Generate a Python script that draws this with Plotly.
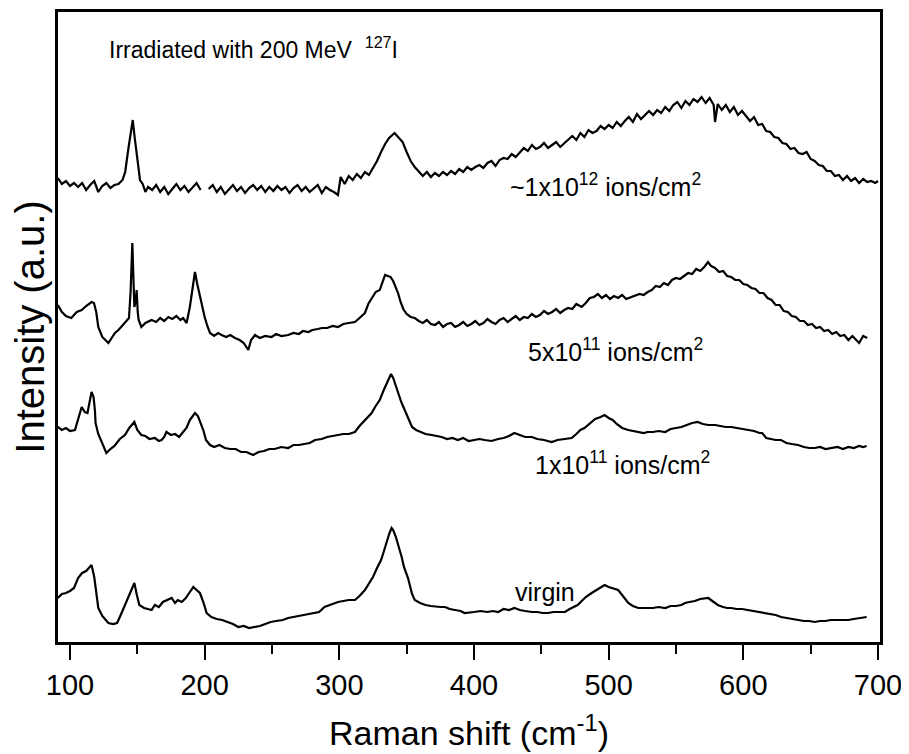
import plotly.graph_objects as go

# ---- data (Raman shift in cm^-1, intensity in a.u., offset stacked) ----
x_1e12 = [91, 94, 97, 100, 103, 106, 109, 112, 115, 118, 121, 124, 127, 130, 133, 136, 139, 141, 143, 145,
          146.6, 148, 150, 152, 154, 156, 158, 161, 164, 167, 170, 173, 176, 179, 182, 185, 188, 191, 194, 197,
          199.5,
          203, 206, 209, 212, 215, 218, 221, 224, 227, 230, 233, 236, 239, 242, 245, 248, 251, 254, 257, 260,
          263, 266, 269, 272, 275, 278, 281, 284, 287, 290, 293, 296, 299, 301, 304, 307, 310, 313, 316, 319,
          322, 325, 328, 331, 334, 337, 339, 341, 343, 345, 347, 350, 353, 356, 359, 362, 365, 368, 371, 374,
          377, 380, 383, 386, 389, 392, 395, 398, 401, 404, 407, 410, 413, 416, 419, 422, 425, 428, 431, 434,
          437, 440, 443, 446, 449, 452, 455, 458, 461, 464, 467, 470, 473, 476, 479, 482, 485, 488, 491, 494,
          497, 500, 503, 506, 509, 512, 515, 518, 521, 524, 527, 530, 533, 536, 539, 542, 545, 548, 551, 554,
          557, 560, 563, 566, 569, 572, 575, 578, 579, 581, 584, 587, 590, 593, 596, 599, 602, 605, 608, 611,
          614, 617, 620, 623, 626, 629, 632, 635, 638, 641, 644, 647, 650, 653, 656, 659, 662, 665, 668, 671,
          674, 677, 680, 683, 686, 689, 692, 695, 698, 700]
y_1e12 = [464, 458, 461, 456, 459, 455, 459, 452, 457, 461, 450, 456, 459, 454, 457, 458, 462, 470, 490, 510,
          522, 505, 480, 462, 458, 450, 455, 452, 457, 450, 455, 448, 453, 458, 452, 456, 450, 455, 459, 452,
          None,
          453, 457, 450, 455, 448, 453, 457, 451, 455, 449, 454, 457, 452, 456, 450, 455, 451, 456, 452, 455,
          449, 454, 457, 451, 455, 450, 454, 457, 449, 455, 452, 450, 447, 465, 458, 466, 462, 468, 464, 470,
          467, 474, 481, 490, 498, 504, 507, 509, 506, 503, 500, 490, 481, 475, 471, 466, 470, 465, 469, 466,
          470, 467, 471, 468, 473, 470, 475, 472, 475, 477, 474, 479, 481, 476, 482, 484, 483, 488, 485, 490,
          494, 491, 497, 493, 495, 499, 494, 497, 500, 495, 499, 502, 506, 502, 509, 505, 512, 509, 511, 516,
          513, 517, 514, 520, 516, 521, 525, 520, 528, 523, 527, 531, 527, 532, 529, 535, 531, 537, 540, 534,
          541, 537, 543, 540, 545, 539, 544, 537, 520, 538, 532, 537, 530, 535, 527, 531, 526, 521, 525, 517,
          518, 511, 510, 505, 504, 499, 498, 493, 494, 489, 488, 490, 483, 481, 477, 476, 471, 471, 466, 467,
          462, 466, 461, 464, 459, 463, 460, 461, 459, 461]

x_5e11 = [91, 94, 97, 101, 105, 108.7, 112, 116, 117.8, 119.5, 121, 124, 128.5, 131, 133.4, 136, 138.5, 140.8,
          143.8, 145, 146.3, 147.2, 147.8, 148.7, 149.5, 150.3, 151, 153, 156, 160.6, 164, 167, 170, 173, 176,
          179, 182, 184, 186.6, 189, 191, 192.8, 194.5, 196.5, 198.5, 200, 202, 204, 207, 210, 212.6, 216, 219,
          222.5, 226, 229, 232.4, 234.5, 237.4, 241, 245, 249.7, 253, 257, 262, 266, 270, 273, 277, 280, 284,
          287, 291, 295, 299, 303, 307, 311.6, 315, 319, 321.5, 324, 327, 330, 332, 334, 336, 338, 340, 342,
          343.6, 345.5, 347.5, 350, 353, 356, 359, 362, 365, 368, 371, 374, 377, 380, 383, 386, 389, 392, 395,
          398, 401, 404, 407, 410, 413, 416, 419, 422, 425, 428, 431, 434, 437, 440, 443, 446, 449, 452, 455,
          458, 461, 464, 467, 470, 473, 476, 480, 483, 486, 489, 492, 495, 498, 501, 504, 507, 510, 513, 517,
          520, 523, 526, 529, 532, 535, 538, 541, 544, 547, 550, 553, 556, 559, 562, 565, 568, 571, 573.8, 576,
          579, 582, 585, 588, 591, 594, 597, 600, 603, 606, 609, 612, 615, 618, 621, 624, 627, 630, 633, 636,
          639, 642, 645, 648, 651, 654, 657, 660, 663, 666, 669, 672, 675, 678, 681, 683, 686, 689, 692]
y_5e11 = [337, 330, 326, 324, 330, 332, 336, 340, 339, 330, 315, 305, 299, 304, 309, 312, 316, 319,
          324, 350, 399, 360, 335, 340, 352, 330, 322, 315, 319, 322, 320, 324, 321, 325, 323,
          326, 322, 324, 319, 335, 355, 370, 358, 345, 332, 325, 316, 309, 306, 309, 307, 305, 307,
          304, 302, 299, 292, 302, 307, 304, 306, 305, 308, 306, 307, 309, 308, 311, 310, 312, 313,
          314, 314, 316, 315, 318, 319, 320, 324, 329, 338, 344, 350, 352, 360, 367, 366, 365, 361, 354,
          349, 340, 333, 328, 325, 324, 321, 319, 322, 318, 317, 320, 315, 318, 319, 315, 317, 320, 316,
          318, 321, 317, 319, 323, 320, 318, 322, 324, 320, 323, 326, 322, 325, 324, 328, 325, 327, 331, 328,
          330, 333, 329, 332, 334, 333, 338, 335, 339, 344, 345, 348, 344, 347, 343, 346, 344, 347, 343, 345,
          346, 348, 347, 350, 352, 356, 355, 359, 357, 362, 364, 363, 366, 369, 368, 373, 371, 375, 380, 376,
          374, 370, 371, 366, 365, 362, 362, 358, 357, 354, 353, 349, 349, 344, 342, 337, 337, 331, 330, 326,
          325, 321, 321, 317, 318, 314, 315, 311, 312, 308, 310, 306, 307, 302, 306, 303, 299, 306, 304]

x_1e11 = [91, 94, 97, 100, 103.7, 106, 108.7, 111, 113, 116, 117.5, 118.5, 119, 121, 124, 127, 130, 133, 137,
          140.8, 144, 147.8, 150, 153, 156, 159, 163, 166, 168, 170, 171.6, 175, 178, 181, 184, 186.5, 189,
          192.8, 195, 197, 199, 201, 204, 207, 211, 215, 219, 223, 227, 231, 236, 240, 244, 248, 252, 257, 262,
          266, 270, 274, 278, 282, 286.9, 291, 295, 299, 303, 307, 311.6, 315, 318, 321, 324, 327, 330, 333,
          336, 338.4, 340, 342, 344, 346, 348.7, 351, 354, 357, 360, 364, 368.6, 372, 376, 380, 384, 388, 392,
          396, 399, 404, 408, 413, 418, 422, 426, 430, 434, 438, 443, 447, 452, 457.7, 462, 467, 472.5, 476,
          479, 482, 486, 490, 494, 497, 500, 503, 506, 510, 514.6, 518, 522, 526, 529, 533, 537, 542, 546, 550,
          554, 558, 562, 566, 570, 574, 579, 583, 587, 591, 595, 599, 603.7, 608, 612, 614, 617, 621, 624, 628,
          632, 636, 640.6, 645, 649, 653, 657, 661, 665, 670, 674, 678, 682, 686, 689, 691.6]
y_1e11 = [215, 212, 214, 211, 212, 222, 235, 230, 229, 250, 245, 232, 219, 208, 199, 189, 193, 196, 203,
          207, 214, 220, 212, 207, 206, 203, 204, 201, 202, 205, 210, 207, 208, 205, 210, 214, 222,
          229, 226, 219, 212, 202, 197, 195, 197, 194, 193, 193, 190, 190, 187, 190, 191, 193, 193, 195, 194,
          197, 197, 198, 199, 202, 203, 205, 206, 207, 208, 208, 210, 216, 220, 225, 229, 236, 242, 252,
          262, 268, 264, 257, 248, 240, 232, 224, 215, 212, 210, 208, 207, 206, 205, 203, 204, 202, 204,
          201, 202, 203, 202, 201, 203, 204, 206, 209, 207, 205, 205, 203, 202, 200, 202, 203, 204, 208,
          212, 214, 219, 223, 225, 227, 224, 222, 218, 214, 212, 211, 210, 209, 210, 210, 211, 210, 213, 214,
          215, 217, 219, 220, 218, 217, 217, 216, 215, 215, 214, 213, 212, 211, 209, 209, 204, 203, 202, 202,
          199, 198, 197, 195, 194, 194, 195, 193, 194, 195, 193, 195, 194, 196, 195, 196]

x_virgin = [91, 94, 97, 100, 103, 106, 109, 112, 114, 116, 118, 119.5, 121, 124, 128.5, 132, 135, 138, 140.8,
            143, 145.5, 147.8, 149.5, 151.5, 155, 158, 160.6, 163, 166, 169, 172, 175.5, 178, 180, 183, 186, 189,
            191.6, 194, 196.5, 199, 201.5, 205, 209, 213, 217, 221, 225, 229, 233, 237.4, 241, 245, 249, 253,
            258, 262, 266, 270, 274, 278, 282, 285, 289, 293, 296, 299, 303, 307, 311.6, 315, 319, 322, 325,
            328, 331, 332.7, 335, 337, 338.8, 340, 342, 344, 346.3, 348, 351, 354, 356, 360, 364, 368, 372, 375,
            378.5, 382, 386, 390, 393, 397, 400, 405, 410, 414, 418, 422, 426, 430, 434, 438, 443, 447, 451, 455,
            459, 463, 467.6, 471, 474, 477, 480, 483, 487.4, 491, 494, 497, 500, 503, 507, 510, 514.6, 518, 522,
            526, 529, 533, 537, 542, 546, 550, 554, 556.7, 560, 564, 568, 571.5, 574, 577, 581, 585, 588, 591,
            595, 599, 603.7, 608, 612, 616, 620, 624, 628, 632, 636, 640.6, 645, 649, 653, 657, 661, 665, 669,
            674, 678, 682, 686, 689, 691.6]
y_virgin = [44, 48, 49, 51, 54, 64, 69, 71, 74, 77, 65, 50, 34, 26, 19, 18, 19, 28, 37,
            45, 53, 59, 48, 37, 34, 33, 32, 37, 35, 40, 42, 44, 39, 42, 40, 44, 50,
            55, 52, 49, 40, 29, 25, 23, 22, 20, 18, 15, 16, 14, 15, 16, 18, 20, 21,
            22, 24, 25, 26, 27, 28, 29, 30, 35, 37, 39, 40, 41, 42, 42, 46, 52, 58, 65,
            74, 82, 89, 100, 108, 114, 112, 105, 96, 85, 75, 64, 48, 42, 39, 37, 36, 35, 35,
            35, 33, 32, 31, 29, 30, 30, 31, 30, 31, 30, 33, 32, 34, 32, 31, 30, 30, 29, 29,
            30, 30, 30, 33, 35, 37, 41, 45, 49, 52, 55, 57, 55, 54, 52, 47, 39, 36, 34,
            34, 34, 34, 35, 34, 36, 36, 37, 39, 40, 41, 43, 44, 44, 41, 37, 35, 34, 34,
            33, 33, 32, 31, 30, 29, 28, 27, 25, 24, 23, 22, 21, 21, 20, 21, 21, 22, 22,
            22, 22, 23, 24, 25, 25]

tick_vals = [100, 200, 300, 400, 500, 600, 700]
tick_text = ["100", "200", "300", "400", "500", "600", "700"]

series = [
    ("~1x10<sup>12</sup> ions/cm<sup>2</sup>", x_1e12, y_1e12),
    ("5x10<sup>11</sup> ions/cm<sup>2</sup>", x_5e11, y_5e11),
    ("1x10<sup>11</sup> ions/cm<sup>2</sup>", x_1e11, y_1e11),
    ("virgin", x_virgin, y_virgin),
]

# label anchor positions (data coordinates)
label_pos = [(425.5, 457), (438.5, 292), (443.5, 179), (429, 50)]

SANS = "Liberation Sans, Arial, Helvetica, sans-serif"

fig = go.Figure()
for name, xs, ys in series:
    fig.add_trace(go.Scatter(x=xs, y=ys, mode="lines", name=name,
                             line=dict(color="black", width=2.2), connectgaps=False,
                             showlegend=False))

for (name, _, _), (lx, ly) in zip(series, label_pos):
    fig.add_annotation(x=lx, y=ly, xref="x", yref="y", text=name, showarrow=False,
                       xanchor="left", yanchor="middle",
                       font=dict(family=SANS, size=25, color="black"))

fig.add_annotation(x=127.5, y=594, xref="x", yref="y",
                   text="Irradiated with 200 MeV  <sup>127</sup>I", showarrow=False,
                   xanchor="left", yanchor="middle",
                   font=dict(family=SANS, size=23, color="black"))

# the page adds an 8 px body margin, so the figure is sized to sit inside the window
fig.update_layout(
    width=901, height=746,
    margin=dict(l=50, r=29, t=4, b=112),
    paper_bgcolor="white", plot_bgcolor="white",
    font=dict(family=SANS, color="black"),
)
fig.update_xaxes(
    range=[91.1, 701.5], showgrid=False, zeroline=False,
    showline=True, linecolor="black", linewidth=2.5, mirror=True,
    tickmode="array", tickvals=tick_vals, ticktext=tick_text,
    ticks="outside", ticklen=15, tickwidth=2, tickcolor="black",
    minor=dict(tickmode="linear", tick0=150, dtick=100, ticks="outside", ticklen=9, tickwidth=2,
               tickcolor="black", showgrid=False),
    tickfont=dict(family=SANS, size=29, color="black"),
    ticklabelstandoff=0,
    title=dict(text="Raman shift (cm<sup>-1</sup>)", standoff=22,
               font=dict(family=SANS, size=34, color="black")),
    automargin=False,
)
fig.update_yaxes(
    range=[0, 630], showgrid=False, zeroline=False,
    showline=True, linecolor="black", linewidth=2.5, mirror=True,
    showticklabels=False, ticks="",
    title=dict(text="Intensity (a.u.)", standoff=4,
               font=dict(family=SANS, size=40, color="black")),
    automargin=False,
)

fig.write_html("out.html")
